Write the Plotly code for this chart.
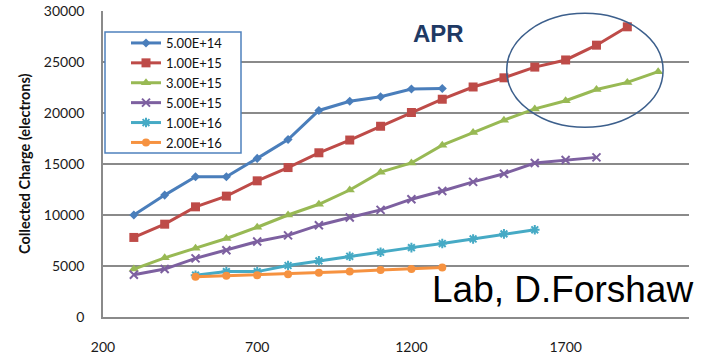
import plotly.graph_objects as go

# Bias voltage (V) for each measurement step
bias = [300, 400, 500, 600, 700, 800, 900, 1000, 1100, 1200, 1300, 1400,
        1500, 1600, 1700, 1800, 1900, 2000]

# Fluence labels (n_eq/cm^2)
fluence_labels = ["5.00E+14", "1.00E+15", "3.00E+15", "5.00E+15", "1.00E+16", "2.00E+16"]

# Collected charge (electrons) per fluence
q_5e14 = [10000, 11950, 13750, 13750, 15550, 17400, 20250, 21150, 21600, 22350, 22400]
q_1e15 = [7800, 9100, 10800, 11850, 13350, 14650, 16100, 17350, 18700, 20050,
          21350, 22550, 23450, 24500, 25200, 26650, 28450]
q_3e15 = [4700, 5800, 6750, 7700, 8800, 10000, 11050, 12450, 14200, 15100,
          16850, 18100, 19300, 20400, 21200, 22300, 23000, 24050]
q_5e15 = [4150, 4700, 5750, 6550, 7400, 8000, 9000, 9750, 10500, 11550,
          12350, 13250, 14050, 15100, 15400, 15650]
q_1e16 = [4100, 4450, 4450, 5050, 5500, 5950, 6350, 6800, 7200, 7650, 8150, 8550]
q_2e16 = [3950, 4050, 4100, 4200, 4350, 4450, 4600, 4700, 4850]

series = [
    (q_5e14, bias[0:], "#4a7ebb", dict(symbol="diamond", size=7)),
    (q_1e15, bias[0:], "#be4b48", dict(symbol="square", size=9)),
    (q_3e15, bias[0:], "#98b954", dict(symbol="triangle-up", size=9)),
    (q_5e15, bias[0:], "#7d60a0", dict(symbol="x-thin-open", size=8, line=dict(width=2))),
    (q_1e16, bias[2:], "#46aac5", dict(symbol="asterisk-open", size=8, line=dict(width=2))),
    (q_2e16, bias[2:], "#f69240", dict(symbol="circle", size=8)),
]

fig = go.Figure()
for (vals, xs, color, marker), name in zip(series, fluence_labels):
    m = dict(color=color, **marker)
    if "line" in m:
        m["line"] = dict(color=color, width=marker["line"]["width"])
    fig.add_trace(go.Scatter(
        x=xs[:len(vals)], y=vals, name=name, mode="lines+markers",
        line=dict(color=color, width=3), marker=m,
    ))

W, H = 712, 354
L, R, T, B = 103, 23, 11, 37
PW, PH = W - L - R, H - T - B


def px(x):
    """Pixel column -> paper x."""
    return (x - L) / PW


def py(y):
    """Pixel row -> paper y."""
    return (H - B - y) / PH


grid = "#8a8a8a"

fig.update_layout(
    width=W, height=H,
    margin=dict(l=L, r=R, t=T, b=B, autoexpand=False),
    paper_bgcolor="white", plot_bgcolor="white",
    font=dict(family="Lato, 'Open Sans', sans-serif", color="#1a1a1a"),
    showlegend=True,
    legend=dict(
        x=px(126), y=py(28), xanchor="left", yanchor="top",
        bgcolor="rgba(0,0,0,0)", borderwidth=0,
        font=dict(size=13, color="#111"),
        tracegroupgap=0,
    ),
    xaxis=dict(
        range=[200, 2100], tick0=200, dtick=500, showgrid=False, automargin=False,
        showline=True, linecolor=grid, linewidth=1.5, zeroline=False,
        ticks="", ticklabelstandoff=16, tickfont=dict(size=14),
    ),
    yaxis=dict(
        range=[0, 30000], dtick=5000, tickformat="d", automargin=False,
        showgrid=True, gridcolor=grid, gridwidth=1.5,
        showline=True, linecolor=grid, linewidth=1.5, zeroline=False,
        ticks="", ticklabelstandoff=14, tickfont=dict(size=14),
    ),
    shapes=[
        # legend frame
        dict(type="rect", xref="paper", yref="paper",
             x0=px(105), x1=px(241), y0=py(153), y1=py(32),
             fillcolor="white", line=dict(color="#4f81bd", width=1.5), layer="above"),
        # highlight ellipse around the high-bias region
        dict(type="circle", xref="x", yref="y",
             x0=1509, x1=2016, y0=18600, y1=29770,
             line=dict(color="#3c5f8c", width=1.5), layer="above"),
    ],
    annotations=[
        dict(text="<b>Collected Charge (electrons)</b>", textangle=-90,
             xref="paper", yref="paper", x=px(24), y=py(164),
             showarrow=False, font=dict(size=14.5, color="#111", family="Lato, sans-serif"),
             xanchor="center", yanchor="middle"),
        dict(text="<b>APR</b>", xref="paper", yref="paper",
             x=px(438), y=py(34), showarrow=False,
             font=dict(size=24, color="#1f3a64", family="'Liberation Sans', Arial, sans-serif"),
             xanchor="center", yanchor="middle"),
        dict(text="Lab, D.Forshaw", xref="paper", yref="paper",
             x=px(562), y=py(289), showarrow=False,
             font=dict(size=37, color="#000", family="'Liberation Sans', Arial, sans-serif"),
             xanchor="center", yanchor="middle"),
    ],
)

fig.write_html("out.html")
